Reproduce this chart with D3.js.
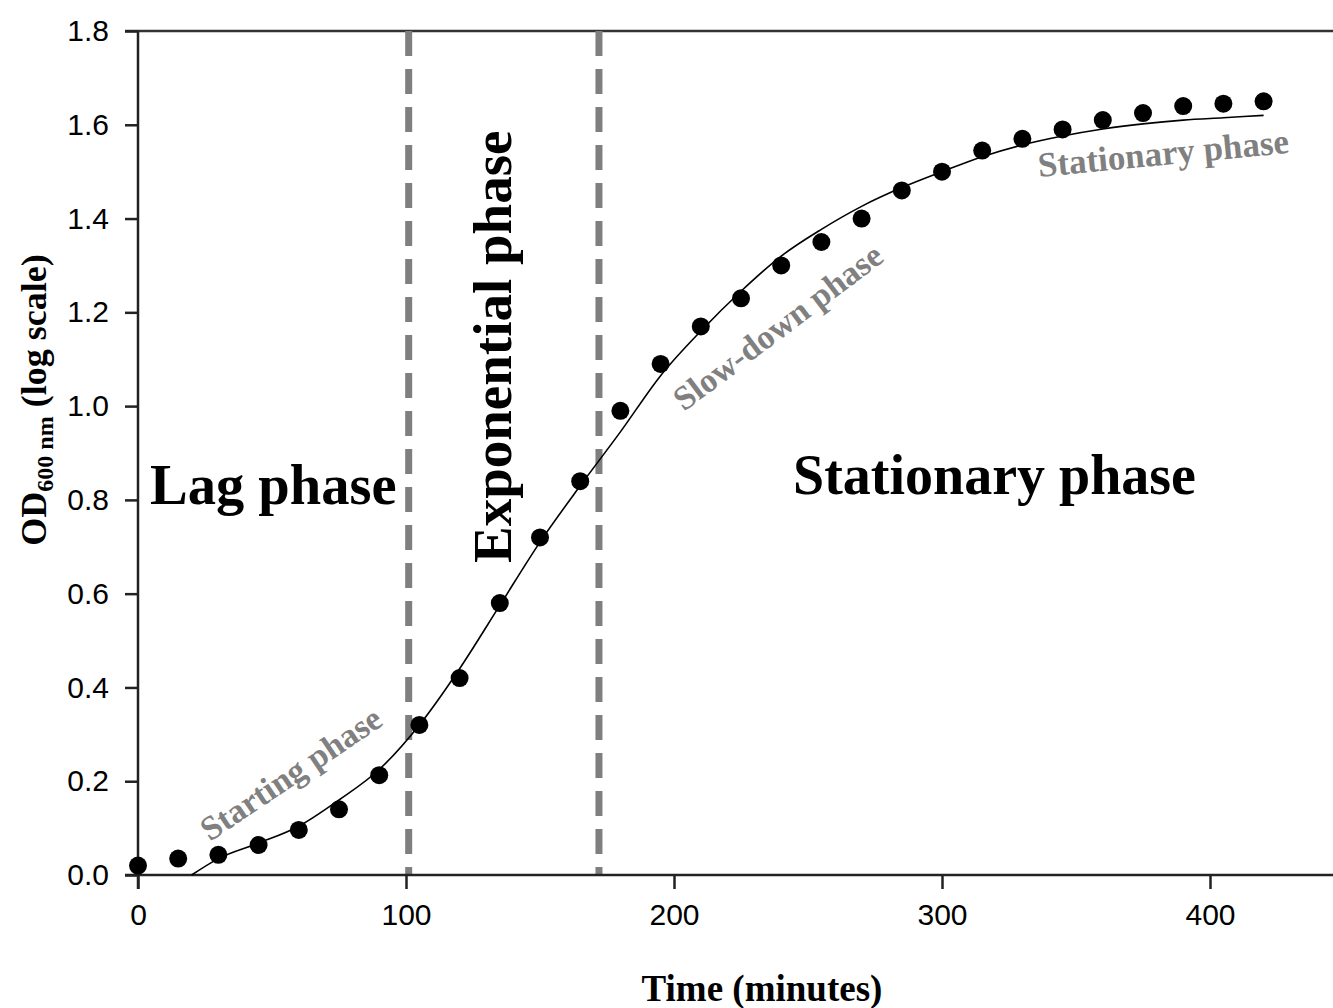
<!DOCTYPE html>
<html>
<head>
<meta charset="utf-8">
<script src="https://cdn.jsdelivr.net/npm/d3@7"></script>
<style>
  body { margin: 0; background: #fff; }
  svg { display: block; }
  .tick text { font-family: "Liberation Sans", Arial, sans-serif; font-size: 30px; fill: #000; }
  .serif { font-family: "Liberation Serif", "Times New Roman", serif; font-weight: bold; }
</style>
</head>
<body>
<div id="chart"></div>
<script>
// measured growth data (minutes, OD600)
let times = [0, 15, 30, 45, 60, 75, 90, 105, 120, 135, 150, 165, 180, 195, 210,
             225, 240, 255, 270, 285, 300, 315, 330, 345, 360, 375, 390, 405, 420];
let odValues = [0.02, 0.035, 0.043, 0.064, 0.096, 0.14, 0.213, 0.32, 0.42, 0.58, 0.72, 0.84, 0.99, 1.09, 1.17,
                1.23, 1.30, 1.35, 1.40, 1.46, 1.50, 1.545, 1.57, 1.59, 1.61, 1.625, 1.64, 1.645, 1.65];

// fitted curve
let fitTimes = [20, 30, 45, 60, 75, 90, 105, 120, 135, 150, 165, 180, 195, 210, 225, 240,
                255, 270, 285, 300, 315, 330, 345, 360, 375, 390, 405, 420];
let fitValues = [0.0, 0.035, 0.068, 0.104, 0.16, 0.225, 0.32, 0.44, 0.575, 0.71, 0.83, 0.945, 1.065, 1.16,
                 1.245, 1.32, 1.377, 1.426, 1.466, 1.50, 1.532, 1.557, 1.576, 1.591, 1.602, 1.61, 1.615, 1.62];

// phase boundaries
let phaseLines = [101, 172];

let xTicks = [0, 100, 200, 300, 400];
let yTicks = [0, 0.2, 0.4, 0.6, 0.8, 1.0, 1.2, 1.4, 1.6, 1.8];

let width = 1333, height = 1008;

let svg = d3.select("#chart")
    .append("svg")
    .attr("width", width)
    .attr("height", height);

let xScale = d3.scaleLinear().domain([0, 450]).range([138, 1344]);
let yScale = d3.scaleLinear().domain([0, 1.8]).range([875, 31]);

// top frame line
svg.append("line")
    .attr("x1", 125).attr("x2", width)
    .attr("y1", yScale(1.8)).attr("y2", yScale(1.8))
    .attr("stroke", "#333").attr("stroke-width", 2.5);

// phase boundaries
svg.selectAll(".phase")
    .data(phaseLines)
    .enter()
    .append("line")
    .attr("class", "phase")
    .attr("x1", d => xScale(d)).attr("x2", d => xScale(d))
    .attr("y1", yScale(1.8)).attr("y2", yScale(0))
    .attr("stroke", "#7f7f7f")
    .attr("stroke-width", 7)
    .attr("stroke-dasharray", "25,13");

// axes
let xAxis = d3.axisBottom(xScale).tickValues(xTicks).tickSizeInner(14).tickSizeOuter(0).tickPadding(15);
let yAxis = d3.axisLeft(yScale).tickValues(yTicks).tickSizeInner(13).tickSizeOuter(0).tickPadding(16)
    .tickFormat(d3.format(".1f"));

let gx = svg.append("g")
    .attr("transform", "translate(0," + yScale(0) + ")")
    .call(xAxis);
gx.select(".domain").remove();
gx.append("line")
    .attr("x1", 125).attr("x2", width)
    .attr("stroke", "#222").attr("stroke-width", 2.5);
gx.selectAll(".tick line").attr("stroke", "#222").attr("stroke-width", 2.5);

let gy = svg.append("g")
    .attr("transform", "translate(" + xScale(0) + ",0)")
    .call(yAxis);
gy.select(".domain").remove();
gy.append("line")
    .attr("y1", yScale(1.8)).attr("y2", yScale(0) + 14)
    .attr("stroke", "#222").attr("stroke-width", 2.5);
gy.selectAll(".tick line").attr("stroke", "#222").attr("stroke-width", 2.5);

// axis titles
svg.append("text")
    .attr("class", "serif")
    .attr("x", 762)
    .attr("y", 1001)
    .attr("text-anchor", "middle")
    .attr("font-size", 37)
    .text("Time (minutes)");

let yTitle = svg.append("text")
    .attr("class", "serif")
    .attr("transform", "translate(46,400) rotate(-90)")
    .attr("text-anchor", "middle")
    .attr("font-size", 36);
yTitle.append("tspan").text("OD");
yTitle.append("tspan").attr("font-size", 24).attr("dy", 7).text("600 nm");
yTitle.append("tspan").attr("dy", -7).text(" (log scale)");

// fitted curve
let fitData = fitTimes.map((t, i) => ({t: t, v: fitValues[i]}));
let line = d3.line()
    .x(d => xScale(d.t))
    .y(d => yScale(d.v))
    .curve(d3.curveMonotoneX);

svg.append("path")
    .datum(fitData)
    .attr("fill", "none")
    .attr("stroke", "#000")
    .attr("stroke-width", 1.6)
    .attr("d", line);

// data points
let pts = times.map((t, i) => ({t: t, v: odValues[i]}));
svg.selectAll(".pt")
    .data(pts)
    .enter()
    .append("circle")
    .attr("class", "pt")
    .attr("cx", d => xScale(d.t))
    .attr("cy", d => yScale(d.v))
    .attr("r", 9)
    .attr("fill", "#000");

// phase labels
svg.append("text")
    .attr("class", "serif")
    .attr("x", 150).attr("y", 504)
    .attr("font-size", 56.5)
    .text("Lag phase");

svg.append("text")
    .attr("class", "serif")
    .attr("transform", "translate(511,563) rotate(-90)")
    .attr("font-size", 55)
    .text("Exponential phase");

svg.append("text")
    .attr("class", "serif")
    .attr("x", 793).attr("y", 494)
    .attr("font-size", 56)
    .text("Stationary phase");

// sub-phase labels (grey, slanted)
svg.append("text")
    .attr("class", "serif")
    .attr("transform", "translate(210,842) rotate(-34)")
    .attr("font-size", 34)
    .attr("fill", "#808080")
    .text("Starting phase");

svg.append("text")
    .attr("class", "serif")
    .attr("transform", "translate(684,412) rotate(-37)")
    .attr("font-size", 34)
    .attr("fill", "#808080")
    .text("Slow-down phase");

svg.append("text")
    .attr("class", "serif")
    .attr("transform", "translate(1039,177) rotate(-5.5)")
    .attr("font-size", 35)
    .attr("fill", "#808080")
    .text("Stationary phase");
</script>
</body>
</html>
